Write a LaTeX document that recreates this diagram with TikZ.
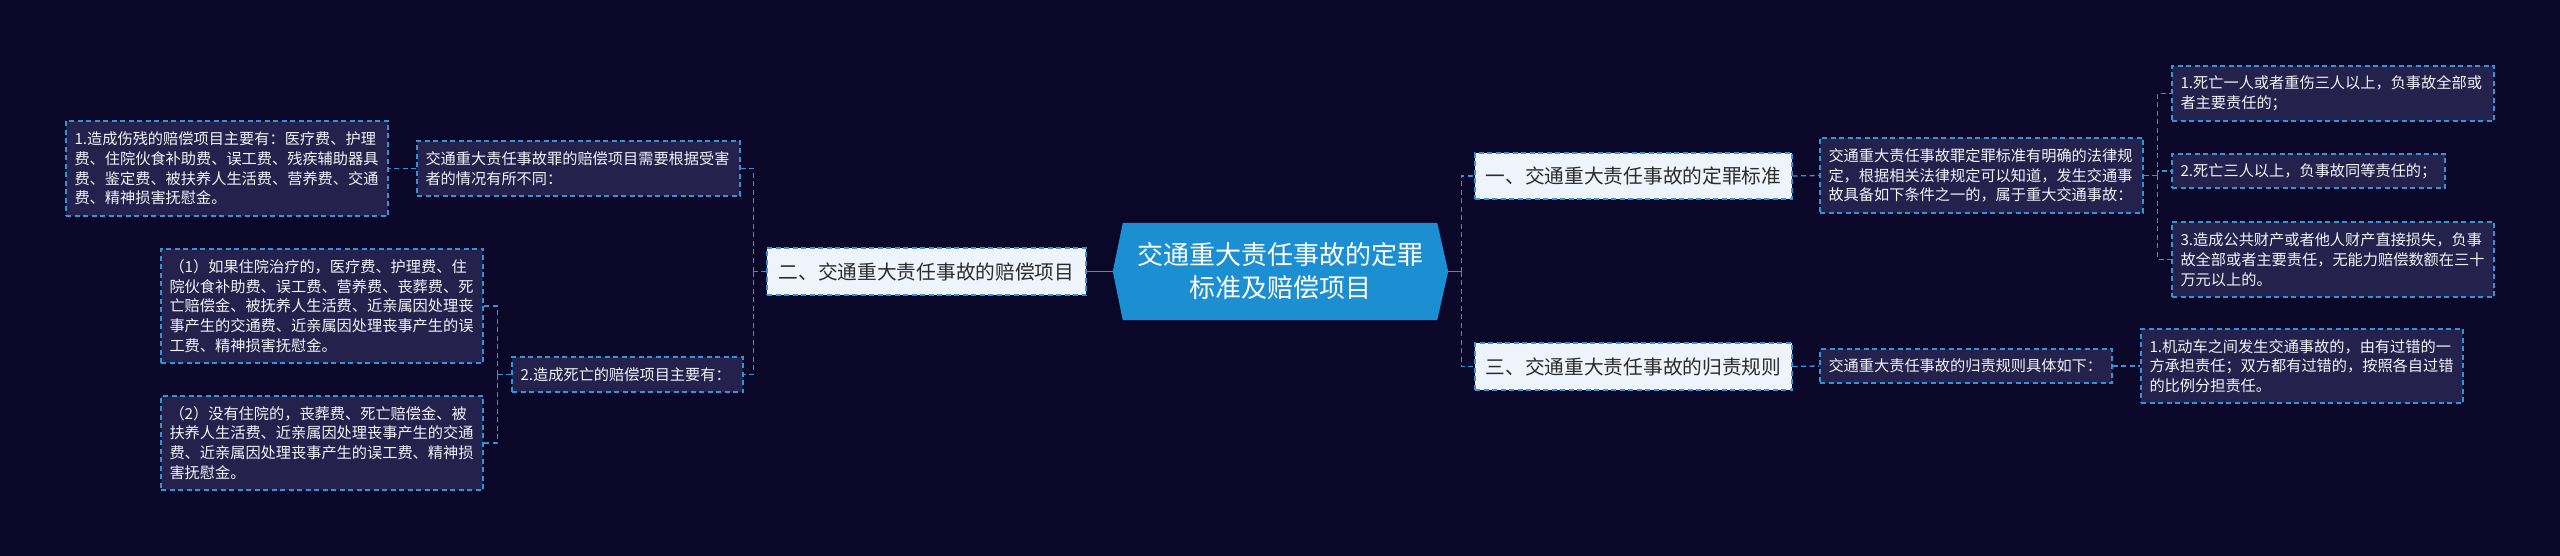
\documentclass[tikz,border=0pt]{standalone}
\usepackage{fontspec}
\newfontfamily\cjk{Noto Sans CJK SC}
\definecolor{bg}{HTML}{0B0729}
\definecolor{subfill}{HTML}{25214D}
\definecolor{bord}{HTML}{2F95D8}
\definecolor{lightfill}{HTML}{EEF3FC}
\definecolor{darktext}{HTML}{2B2B2B}
\definecolor{centerfill}{HTML}{1C8FD3}
\definecolor{subtext}{HTML}{F2F2F7}
\tikzset{
  sub/.style={draw=bord, line width=1.3pt, dash pattern=on 5pt off 3.5pt, fill=subfill,
    text=subtext, font=\cjk\fontsize{15.2}{19.8}\selectfont, align=left,
    inner xsep=8.5pt, inner ysep=0pt},
  lvl/.style={draw=bord, line width=1.3pt, dash pattern=on 5pt off 3.5pt, fill=lightfill,
    text=darktext, font=\cjk\fontsize{19.7}{24}\selectfont, align=center, inner sep=0pt},
  dconn/.style={draw=bord, line width=1.3pt, dash pattern=on 5pt off 3.5pt},
  sconn/.style={draw=bord, line width=1.6pt},
}
\begin{document}
\begin{tikzpicture}[x=1pt,y=-1pt]
\fill[bg] (0,0) rectangle (2560,556);
\useasboundingbox (0,0) rectangle (2560,556);

% center
\node[minimum width=335pt, minimum height=97pt, inner sep=0pt] (center) at (1280.5,271.5) {};
\fill[centerfill] (center.west) -- ([xshift=10pt]center.north west) -- ([xshift=-11pt]center.north east)
  -- (center.east) -- ([xshift=-11pt]center.south east) -- ([xshift=10pt]center.south west) -- cycle;
\node[inner sep=0pt, align=center, text=white, font=\cjk\fontsize{26}{33}\selectfont]
  (centertext) at (center.center) {交通重大责任事故的定罪\\标准及赔偿项目};

% level 1
\node[lvl, minimum width=319pt, minimum height=47pt] (L) at (926.5,271.5) {二、交通重大责任事故的赔偿项目};
\node[lvl, minimum width=317pt, minimum height=46pt] (R1) at (1633.5,176) {一、交通重大责任事故的定罪标准};
\node[lvl, minimum width=317pt, minimum height=47pt] (R3) at (1633.5,366.5) {三、交通重大责任事故的归责规则};

% left subtree
\node[sub, text width=305pt, minimum height=95pt] (A) at (227,168.5)
  {1.造成伤残的赔偿项目主要有：医疗费、护理\\费、住院伙食补助费、误工费、残疾辅助器具\\费、鉴定费、被扶养人生活费、营养费、交通\\费、精神损害抚慰金。};
\node[sub, text width=306pt, minimum height=55pt] (B) at (578.5,168.5)
  {交通重大责任事故罪的赔偿项目需要根据受害\\者的情况有所不同：};
\node[sub, text width=214pt, minimum height=35pt] (C) at (627.5,374.5)
  {2.造成死亡的赔偿项目主要有：};
\node[sub, text width=305pt, minimum height=114pt] (D) at (322,306)
  {（1）如果住院治疗的，医疗费、护理费、住\\院伙食补助费、误工费、营养费、丧葬费、死\\亡赔偿金、被抚养人生活费、近亲属因处理丧\\事产生的交通费、近亲属因处理丧事产生的误\\工费、精神损害抚慰金。};
\node[sub, text width=305pt, minimum height=94pt] (E) at (322,443)
  {（2）没有住院的，丧葬费、死亡赔偿金、被\\扶养人生活费、近亲属因处理丧事产生的交通\\费、近亲属因处理丧事产生的误工费、精神损\\害抚慰金。};

% right subtree
\node[sub, text width=306pt, minimum height=75pt] (F) at (1981.5,175.5)
  {交通重大责任事故罪定罪标准有明确的法律规\\定，根据相关法律规定可以知道，发生交通事\\故具备如下条件之一的，属于重大交通事故：};
\node[sub, text width=305pt, minimum height=55pt] (G) at (2333,93.5)
  {1.死亡一人或者重伤三人以上，负事故全部或\\者主要责任的；};
\node[sub, text width=256pt, minimum height=34pt] (H) at (2308.5,171)
  {2.死亡三人以上，负事故同等责任的；};
\node[sub, text width=305pt, minimum height=75pt] (I) at (2333,259.5)
  {3.造成公共财产或者他人财产直接损失，负事\\故全部或者主要责任，无能力赔偿数额在三十\\万元以上的。};
\node[sub, text width=275pt, minimum height=34pt] (J) at (1966,366)
  {交通重大责任事故的归责规则具体如下：};
\node[sub, text width=305pt, minimum height=74pt] (K) at (2302,366)
  {1.机动车之间发生交通事故的，由有过错的一\\方承担责任；双方都有过错的，按照各自过错\\的比例分担责任。};

% connectors
\draw[sconn] (center.west) -- (L.east);
\draw[sconn] (center.east) -- ++(13,0) coordinate (rj);
\draw[dconn] (rj) |- (R1.west);
\draw[dconn] (rj) |- (R3.west);
\draw[dconn] (L.west) -- ++(-13,0) coordinate (lj);
\draw[dconn] (lj) |- (B.east);
\draw[dconn] (lj) |- (C.east);
\draw[dconn] (B.west) -- (A.east |- B.west);
\draw[dconn] (C.west) -- ++(-14,0) coordinate (cj);
\draw[dconn] (cj) |- (D.east);
\draw[dconn] (cj) |- (E.east);
\draw[dconn] (R1.east) -- (F.west);
\draw[dconn] (F.east) -- ++(14,0) coordinate (fj);
\draw[dconn] (fj) |- (G.west);
\draw[dconn] (fj) |- (H.west);
\draw[dconn] (fj) |- (I.west);
\draw[dconn] (R3.east) -- (J.west);
\draw[dconn] (J.east) -- (K.west);
\end{tikzpicture}
\end{document}
